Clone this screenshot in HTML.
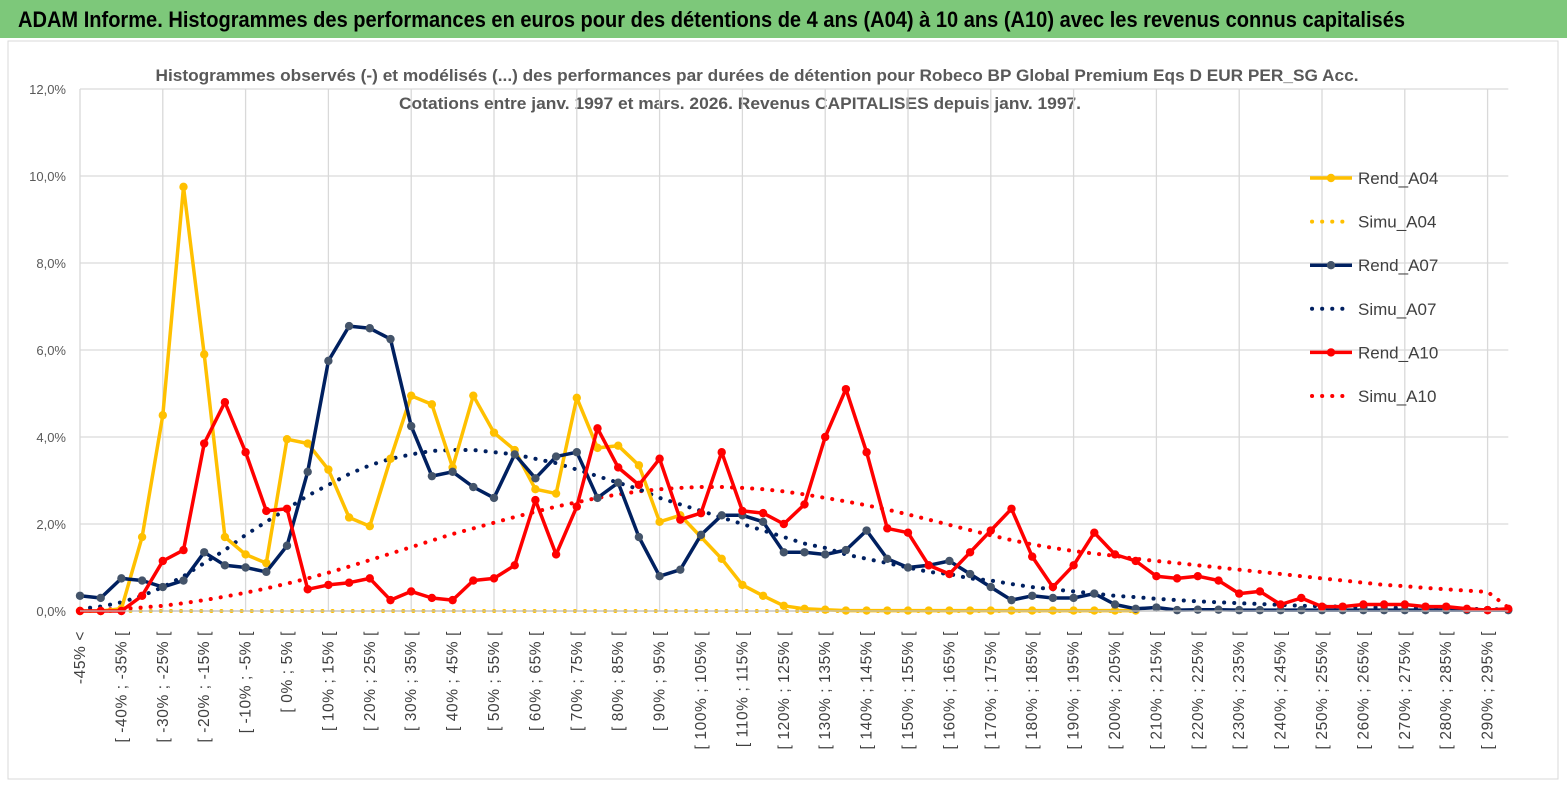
<!DOCTYPE html>
<html><head><meta charset="utf-8">
<style>
html,body{margin:0;padding:0;background:#fff;}
body{width:1567px;height:789px;overflow:hidden;font-family:"Liberation Sans",sans-serif;}
#hdr{position:absolute;left:0;top:0;width:1567px;height:38px;background:#7dc87a;}
svg{position:absolute;left:0;top:0;}
</style></head><body>
<div id="hdr"></div>
<svg id="chart" width="1567" height="789" style="top:0">
<text x="18" y="27" font-size="22" font-weight="bold" fill="#000" textLength="1387" lengthAdjust="spacingAndGlyphs">ADAM Informe. Histogrammes des performances en euros pour des détentions de 4 ans (A04) à 10 ans (A10) avec les revenus connus capitalisés</text>
<rect x="8" y="41" width="1550" height="738" fill="none" stroke="#d9d9d9"/>
<text x="757" y="81" text-anchor="middle" font-size="17" font-weight="bold" fill="#595959" textLength="1203" lengthAdjust="spacingAndGlyphs">Histogrammes observés (-)  et modélisés (...) des performances par durées de détention pour Robeco BP Global Premium Eqs D EUR PER_SG Acc.</text>
<text x="740" y="109" text-anchor="middle" font-size="17" font-weight="bold" fill="#595959" textLength="682" lengthAdjust="spacingAndGlyphs">Cotations entre janv. 1997 et mars. 2026. Revenus CAPITALISES depuis janv. 1997.</text>
<g id="grid"></g><g id="series"></g><g id="axes"></g><g id="legend"></g>
</svg>
<script>
const categories=[];
categories.push("-45% <");
for(let a=-45;a<300;a+=5){categories.push("[ "+a+"% ; "+(a+5)+"% [");}
const yTicks=[0,2,4,6,8,10,12];
const rendA04=[0,0,0.05,1.7,4.5,9.75,5.9,1.7,1.3,1.1,3.95,3.85,3.25,2.15,1.95,3.5,4.95,4.75,3.3,4.95,4.1,3.7,2.8,2.7,4.9,3.75,3.8,3.35,2.05,2.2,1.7,1.2,0.6,0.35,0.12,0.05,0.03,0.01,0.01,0.01,0.01,0.01,0.01,0.01,0.01,0.01,0.01,0.01,0.01,0.01,0.01,0.01];
const simuA04=[0,0,0,0,0,0,0,0,0,0,0,0,0,0,0,0,0,0,0,0,0,0,0,0,0,0,0,0,0,0,0,0,0,0,0,0,0,0,0,0,0,0,0,0,0,0,0,0,0,0,0,0];
const rendA07=[0.35,0.3,0.75,0.7,0.55,0.7,1.35,1.05,1.0,0.9,1.5,3.2,5.75,6.55,6.5,6.25,4.25,3.1,3.2,2.85,2.6,3.6,3.05,3.55,3.65,2.6,2.95,1.7,0.8,0.95,1.75,2.2,2.2,2.05,1.35,1.35,1.3,1.4,1.85,1.2,1.0,1.05,1.15,0.85,0.55,0.25,0.35,0.3,0.3,0.4,0.15,0.05,0.08,0.02,0.03,0.03,0.02,0.02,0.02,0.02,0.02,0.02,0.02,0.02,0.02,0.02,0.02,0.02,0.02,0.02];
const simuA07=[0.05,0.1,0.2,0.35,0.55,0.8,1.1,1.4,1.75,2.05,2.35,2.65,2.9,3.15,3.35,3.5,3.6,3.68,3.7,3.7,3.65,3.6,3.5,3.4,3.25,3.1,2.95,2.8,2.6,2.45,2.3,2.15,2.0,1.85,1.7,1.55,1.45,1.3,1.2,1.1,1.0,0.9,0.85,0.75,0.7,0.62,0.55,0.5,0.45,0.4,0.35,0.32,0.28,0.25,0.22,0.2,0.18,0.16,0.14,0.12,0.11,0.1,0.09,0.08,0.07,0.06,0.06,0.05,0.04,0.04];
const rendA10=[0,0,0,0.35,1.15,1.4,3.85,4.8,3.65,2.3,2.35,0.5,0.6,0.65,0.75,0.25,0.45,0.3,0.25,0.7,0.75,1.05,2.55,1.3,2.4,4.2,3.3,2.9,3.5,2.1,2.25,3.65,2.3,2.25,2.0,2.45,4.0,5.1,3.65,1.9,1.8,1.05,0.85,1.35,1.85,2.35,1.25,0.55,1.05,1.8,1.3,1.15,0.8,0.75,0.8,0.7,0.4,0.45,0.15,0.3,0.1,0.1,0.15,0.15,0.15,0.1,0.1,0.05,0.02,0.05];
const simuA10=[0.02,0.03,0.05,0.08,0.12,0.18,0.25,0.33,0.42,0.52,0.63,0.75,0.88,1.02,1.17,1.32,1.47,1.62,1.77,1.9,2.03,2.16,2.28,2.4,2.5,2.6,2.68,2.75,2.8,2.83,2.85,2.85,2.83,2.8,2.75,2.68,2.6,2.52,2.43,2.33,2.22,2.1,1.98,1.86,1.74,1.63,1.53,1.45,1.38,1.32,1.27,1.2,1.15,1.1,1.05,1.0,0.95,0.9,0.85,0.8,0.75,0.7,0.65,0.6,0.57,0.53,0.5,0.47,0.44,0.08];
const seriesNames=["Rend_A04","Simu_A04","Rend_A07","Simu_A07","Rend_A10","Simu_A10"];

const NS="http://www.w3.org/2000/svg";
const X0=80,DX=20.7,Y0=611,YTOP=89,YMAX=12;
function xs(i){return X0+DX*i;}
function ys(v){return Y0-(v/YMAX)*(Y0-YTOP);}
function mk(tag,attrs,parent){const e=document.createElementNS(NS,tag);for(const k in attrs)e.setAttribute(k,attrs[k]);parent.appendChild(e);return e;}
const grid=document.getElementById('grid'),axes=document.getElementById('axes'),ser=document.getElementById('series'),leg=document.getElementById('legend');
yTicks.forEach(t=>{
  const l=mk('line',{x1:X0,x2:xs(69),y1:ys(t),y2:ys(t),stroke:'#d9d9d9','stroke-width':1.3},grid);
  
  
  const tx=mk('text',{x:66,y:ys(t)+5,'text-anchor':'end','font-size':13,fill:'#595959'},axes);
  tx.textContent=t.toFixed(1).replace('.',',')+'%';
  
  
});
for(let i=0;i<categories.length;i+=4){
  const l=mk('line',{x1:xs(i),x2:xs(i),y1:YTOP,y2:Y0,stroke:'#d9d9d9','stroke-width':1.3},grid);
  
  
}
const ax=mk('line',{x1:X0,x2:xs(69),y1:Y0,y2:Y0,stroke:'#bfbfbf','stroke-width':1.3},axes);


categories.forEach((c,i)=>{
  if(i%2) return;
  const x=xs(i)+5;
  const tx=mk('text',{x:x,y:631,'text-anchor':'end','font-size':15.5,'letter-spacing':'0.6',fill:'#404040',transform:'rotate(-90 '+x+' 631)'},axes);
  tx.textContent=c;
  
  
});
function pts(arr){return arr.map((v,i)=>xs(i).toFixed(1)+','+ys(v).toFixed(1)).join(' ');}
function dotted(arr,color,name){
  const p=mk('polyline',{points:pts(arr),fill:'none',stroke:color,'stroke-width':4,'stroke-dasharray':'0.1 10','stroke-linecap':'round'},ser);
  
  
}
function solid(arr,color,mcolor,name){
  const g=mk('g',{},ser);
  
  
  mk('polyline',{points:pts(arr),fill:'none',stroke:color,'stroke-width':3.5,'stroke-linejoin':'round'},g);
  arr.forEach((v,i)=>{
    const c=mk('circle',{cx:xs(i),cy:ys(v),r:4.2,fill:mcolor},g);
    
    
  });
}
dotted(simuA04,'#ffc000','series-simu-a04');
dotted(simuA10,'#ff0000','series-simu-a10');
dotted(simuA07,'#002060','series-simu-a07');
solid(rendA04,'#ffc000','#ffc000','series-rend-a04');
solid(rendA07,'#002060','#44546a','series-rend-a07');
solid(rendA10,'#ff0000','#ff0000','series-rend-a10');
const legColors=['#ffc000','#ffc000','#002060','#002060','#ff0000','#ff0000'];
seriesNames.forEach((n,k)=>{
  const y=178+k*43.6;
  const g=mk('g',{},leg);
  
  
  if(k%2===0){
    mk('line',{x1:1310,x2:1352,y1:y,y2:y,stroke:legColors[k],'stroke-width':3.5},g);
    mk('circle',{cx:1331,cy:y,r:4.2,fill:k===2?'#44546a':legColors[k]},g);
  } else {
    mk('line',{x1:1312,x2:1352,y1:y,y2:y,stroke:legColors[k],'stroke-width':4,'stroke-dasharray':'0.1 10','stroke-linecap':'round'},g);
  }
  const t=mk('text',{x:1358,y:y+6,'font-size':17,fill:'#404040'},g);
  t.textContent=n;
});
</script>
</body></html>
